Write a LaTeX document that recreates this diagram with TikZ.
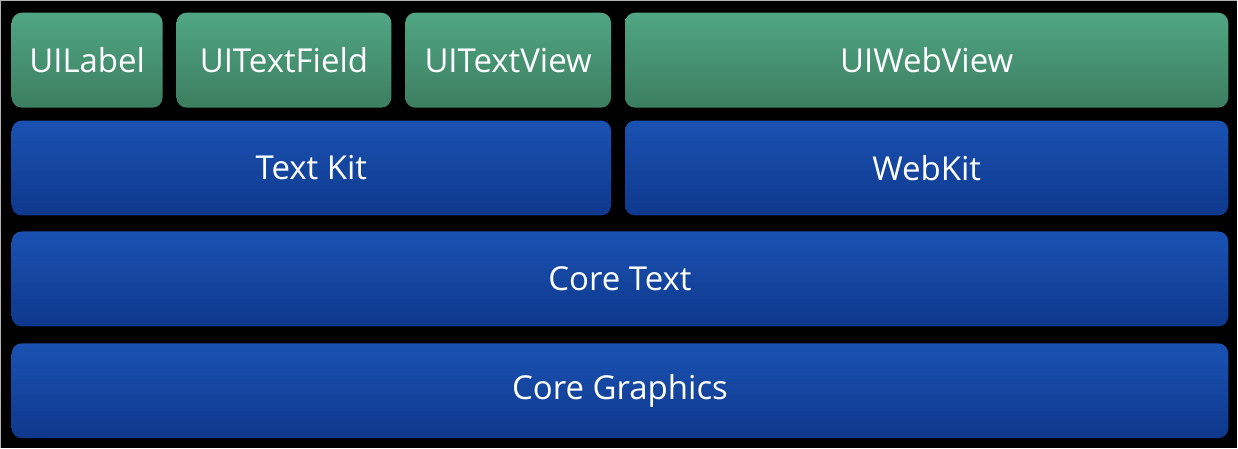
\documentclass[tikz,border=0pt]{standalone}
\usepackage{fontspec}
\setmainfont{Open Sans}
\usepackage{tikz}
\usetikzlibrary{positioning}

\definecolor{kitgreentop}{RGB}{80,166,132}
\definecolor{kitgreenbot}{RGB}{60,126,96}
\definecolor{kitbluetop}{RGB}{26,82,178}
\definecolor{kitbluebot}{RGB}{14,56,140}

\tikzset{
    layer/.style={rounded corners=10pt, inner sep=0pt, outer sep=0pt,
        text=white, font=\fontsize{33}{40}\selectfont},
    uilayer/.style={layer, top color=kitgreentop, bottom color=kitgreenbot},
    kitlayer/.style={layer, top color=kitbluetop, bottom color=kitbluebot}
}

\begin{document}
\begin{tikzpicture}[x=1pt,y=-1pt]

\def\rowheight{95}

% black page with its grey edge
\fill[black] (0,0) rectangle (1238,448);
\draw[gray!60, line width=1.5pt] (0,448) -- (0,0) -- (1238,0);
\useasboundingbox (0,0) rectangle (1238,448);

% name, left, right, top, style, text
\newcommand\layerbox[6]
{
    \node[#5, minimum width={(#3-#2)*1pt}, minimum height={\rowheight*1pt}]
        (#1) at ({(#2+#3)/2},{#4+\rowheight/2}) {#6};
}

\layerbox{uilabel}{11}{162}{12}{uilayer}{UILabel}
\layerbox{uitextfield}{176}{391}{12}{uilayer}{UITextField}
\layerbox{uitextview}{405}{611}{12}{uilayer}{UITextView}
\layerbox{uiwebview}{625}{1229}{12}{uilayer}{UIWebView}

\layerbox{textkit}{11}{611}{120}{kitlayer}{Text Kit}
\layerbox{webkit}{625}{1229}{120}{kitlayer}{WebKit}

\layerbox{coretext}{11}{1229}{231}{kitlayer}{Core Text}
\layerbox{coregraphics}{11}{1229}{343}{kitlayer}{Core Graphics}

\end{tikzpicture}
\end{document}
